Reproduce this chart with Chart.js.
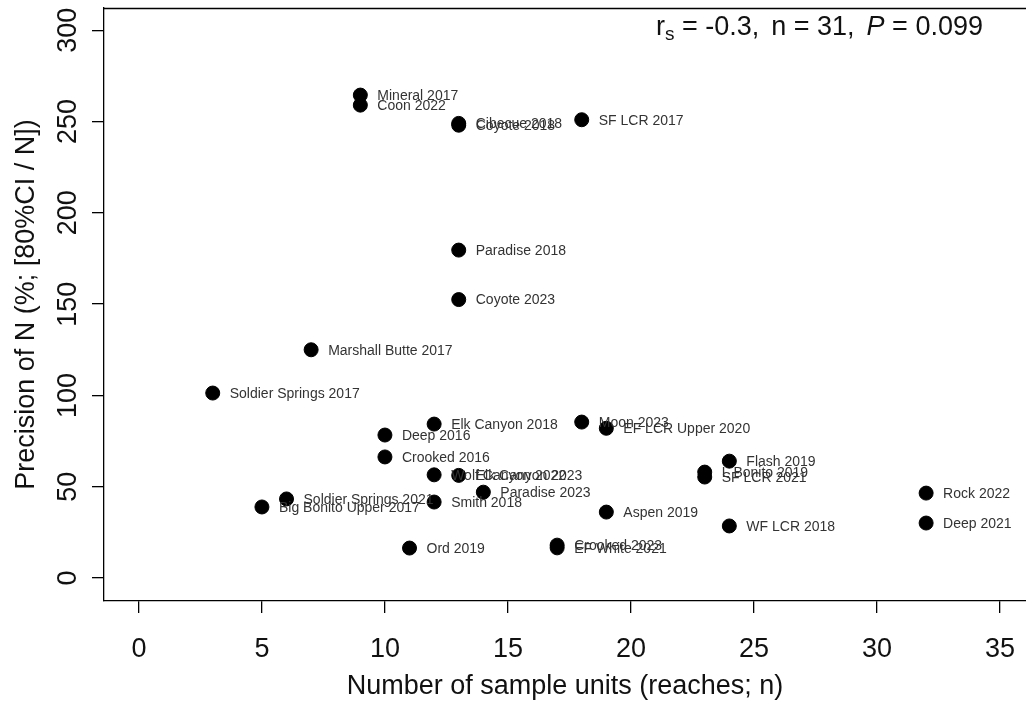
<!DOCTYPE html>
<html>
<head>
<meta charset="utf-8">
<script src="https://cdn.jsdelivr.net/npm/chart.js@4"></script>
<style>
  html, body { margin: 0; padding: 0; background: #fff; overflow: hidden; }
  #wrap { width: 1026px; height: 705px; }
</style>
</head>
<body>
<div id="wrap"><canvas id="c" width="1026" height="705"></canvas></div>
<script>
// Stream-year sites: number of sample reaches vs. precision of the abundance estimate
const siteNames = [
  "Mineral 2017", "Coon 2022", "Cibecue 2018", "Coyote 2018", "SF LCR 2017",
  "Paradise 2018", "Coyote 2023", "Marshall Butte 2017", "Soldier Springs 2017",
  "Elk Canyon 2018", "Moon 2023", "EF LCR Upper 2020", "Deep 2016", "Crooked 2016",
  "Flash 2019", "Wolf Canyon 2022", "Elk Canyon 2023", "Paradise 2023", "Smith 2018",
  "Soldier Springs 2021", "Big Bonito Upper 2017", "Aspen 2019", "L Bonito 2019",
  "SF LCR 2021", "WF LCR 2018", "Rock 2022", "Deep 2021", "Ord 2019",
  "Crooked 2023", "EF White 2021"
];
const sampleUnits = [
  9, 9, 13, 13, 18,
  13, 13, 7, 3,
  12, 18, 19, 10, 10,
  24, 12, 13, 14, 12,
  6, 5, 19, 23,
  23, 24, 32, 32, 11,
  17, 17
];
const precisionN = [
  264.5, 259, 249, 248, 251,
  179.6, 152.5, 125, 101.3,
  84.3, 85.4, 82, 78.3, 66.3,
  64, 56.5, 56.2, 47, 41.6,
  43.3, 38.9, 36.1, 58,
  55.3, 28.5, 46.5, 30.1, 16.4,
  18, 16.5
];
const xTickValues = [0, 5, 10, 15, 20, 25, 30, 35];
const yTickValues = [0, 50, 100, 150, 200, 250, 300];
const statText = { rs: "-0.3", n: "31", p: "0.099" };

const FONT = "'Liberation Sans', Arial, sans-serif";

// Site name next to each point
const pointLabels = {
  id: 'pointLabels',
  afterDatasetsDraw(chart) {
    const ctx = chart.ctx;
    const meta = chart.getDatasetMeta(0);
    ctx.save();
    ctx.font = "14px " + FONT;
    ctx.fillStyle = "#333";
    ctx.textAlign = "left";
    ctx.textBaseline = "middle";
    meta.data.forEach((pt, i) => {
      ctx.fillText(siteNames[i], pt.x + 17, pt.y + 1);
    });
    ctx.restore();
  }
};

// Frame line along the top and the Spearman statistics
const frameAndStats = {
  id: 'frameAndStats',
  afterDraw(chart) {
    const ctx = chart.ctx;
    const a = chart.chartArea;
    ctx.save();
    ctx.strokeStyle = "#000";
    ctx.lineWidth = 1.3;
    ctx.beginPath();
    ctx.moveTo(a.left, a.top + 0.5);
    ctx.lineTo(a.right, a.top + 0.5);
    ctx.stroke();

    const size = 27;
    const base = 35;
    const gap = 12;
    let x = 656;
    ctx.fillStyle = "#111";
    ctx.textBaseline = "alphabetic";
    ctx.textAlign = "left";
    const put = (txt, font, dy) => {
      ctx.font = font;
      ctx.fillText(txt, x, base + (dy || 0));
      x += ctx.measureText(txt).width;
    };
    const main = size + "px " + FONT;
    put("r", main);
    put("s", Math.round(size * 0.72) + "px " + FONT, 5);
    put(" = " + statText.rs + ",", main);
    x += gap;
    put("n = " + statText.n + ",", main);
    x += gap;
    put("P", "italic " + main);
    put(" = " + statText.p, main);
    ctx.restore();
  }
};

const noEdgePadding = s => { s.paddingLeft = 0; s.paddingRight = 0; s.paddingTop = 0; s.paddingBottom = 0; };

new Chart(document.getElementById('c'), {
  type: 'scatter',
  data: {
    datasets: [{
      data: sampleUnits.map((v, i) => ({ x: v, y: precisionN[i] })),
      backgroundColor: "#000",
      borderColor: "#000",
      pointRadius: 7,
      pointHoverRadius: 7
    }]
  },
  options: {
    responsive: false,
    animation: false,
    events: [],
    layout: { autoPadding: false, padding: { top: 8, right: 0, left: 0, bottom: 0 } },
    plugins: { legend: { display: false }, tooltip: { enabled: false } },
    scales: {
      x: {
        type: 'linear',
        min: -1.42,
        max: 36.06,
        afterBuildTicks: s => { s.ticks = xTickValues.map(v => ({ value: v })); },
        afterFit: s => { s.height = 104; noEdgePadding(s); },
        grid: { drawOnChartArea: false, drawTicks: true, tickLength: 12, color: "#000", tickColor: "#000", lineWidth: 1.3 },
        border: { display: true, color: "#000", width: 1.3 },
        ticks: { color: "#111", font: { family: FONT, size: 27 }, padding: 20, maxRotation: 0, autoSkip: false },
        title: { display: true, text: "Number of sample units (reaches; n)", color: "#111",
                 font: { family: FONT, size: 27 }, padding: { top: 0, bottom: 2 } }
      },
      y: {
        type: 'linear',
        min: -12.6,
        max: 312.2,
        afterBuildTicks: s => { s.ticks = yTickValues.map(v => ({ value: v })); },
        afterFit: s => { s.width = 104; noEdgePadding(s); },
        grid: { drawOnChartArea: false, drawTicks: true, tickLength: 12, color: "#000", tickColor: "#000", lineWidth: 1.3 },
        border: { display: true, color: "#000", width: 1.3 },
        ticks: { color: "#111", font: { family: FONT, size: 27 }, padding: 1, minRotation: 90, maxRotation: 90,
                 crossAlign: 'center', autoSkip: false },
        title: { display: true, text: "Precision of N (%; [80%CI / N])", color: "#111",
                 font: { family: FONT, size: 27 }, padding: { top: 10, bottom: 0 } }
      }
    }
  },
  plugins: [pointLabels, frameAndStats]
});
</script>
</body>
</html>
